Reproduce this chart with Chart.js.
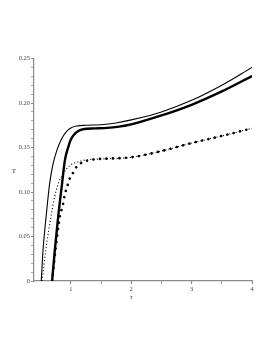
<!DOCTYPE html>
<html>
<head>
<meta charset="utf-8">
<script src="https://cdn.jsdelivr.net/npm/chart.js@4.4.1/dist/chart.umd.min.js"></script>
<style>
  html, body { margin: 0; padding: 0; background: #ffffff; }
  #wrap { width: 273px; height: 353px; position: relative; }
</style>
</head>
<body>
<div id="wrap"><canvas id="c" width="273" height="353"></canvas></div>
<script>
// ---- data ----
const tauThin  = [0.51, 0.54, 0.59, 0.65, 0.70, 0.77, 0.85, 0.93, 1.0, 1.1, 1.25, 1.5, 1.75, 2.0, 2.5, 3.0, 3.5, 4.0];
const TThin    = [0, 0.035, 0.072, 0.11, 0.13, 0.147, 0.160, 0.168, 0.172, 0.1742, 0.175, 0.1755, 0.1775, 0.181, 0.190, 0.203, 0.220, 0.240];

const tauThick = [0.69, 0.735, 0.79, 0.856, 0.90, 0.955, 1.0, 1.08, 1.2, 1.4, 1.6, 1.8, 2.0, 2.5, 3.0, 3.5, 4.0];
const TThick   = [0, 0.035, 0.072, 0.11, 0.135, 0.150, 0.159, 0.1665, 0.1705, 0.1715, 0.172, 0.1735, 0.176, 0.186, 0.198, 0.213, 0.2303];

const tauDot   = [0.525, 0.586, 0.67, 0.73, 0.79, 0.86, 0.93, 1.0, 1.1, 1.25, 1.45, 1.7, 2.0, 2.5, 3.0, 3.5, 4.0];
const TDot     = [0, 0.035, 0.072, 0.094, 0.109, 0.119, 0.126, 0.1305, 0.1335, 0.136, 0.137, 0.1375, 0.139, 0.146, 0.155, 0.163, 0.1716];

const tauBig   = [0.69, 0.746, 0.818, 0.87, 0.90, 0.94, 0.98, 1.04, 1.09, 1.18, 1.29, 1.45, 1.7, 2.0, 2.5, 3.0, 3.5, 4.0];
const TBig     = [0, 0.035, 0.072, 0.086, 0.097, 0.106, 0.115, 0.122, 0.128, 0.133, 0.1355, 0.137, 0.1378, 0.139, 0.146, 0.155, 0.163, 0.1716];

const xTickLabels = ['1', '2', '3', '4'];
const yTickLabels = ['0', '0.05', '0.10', '0.15', '0.20', '0.25'];
const xTitle = 'τ';
const yTitle = 'T';

function pts(xs, ys) { return xs.map((x, i) => ({ x: x, y: ys[i] })); }

const axisColor = '#8a8a8a';
const labelFont = { family: '"Liberation Serif", "DejaVu Serif", serif', size: 6.5 };

const titlePlugin = {
  id: 'axisTitles',
  afterDraw(chart) {
    const ctx = chart.ctx;
    const xs = chart.scales.x, ys = chart.scales.y;
    ctx.save();
    ctx.fillStyle = '#333';
    ctx.font = 'italic 7px "Liberation Serif", serif';
    ctx.textAlign = 'center';
    ctx.textBaseline = 'middle';
    ctx.fillText(xTitle, xs.getPixelForValue(2), 297);
    ctx.font = '7px "Liberation Serif", serif';
    ctx.fillText(yTitle, 14, (ys.top + ys.bottom) / 2 + 1);
    ctx.restore();
  }
};

new Chart(document.getElementById('c'), {
  type: 'line',
  data: {
    datasets: [
      { data: pts(tauThin, TThin), borderColor: '#000', borderWidth: 1.1, pointRadius: 0, cubicInterpolationMode: 'monotone', fill: false },
      { data: pts(tauThick, TThick), borderColor: '#000', borderWidth: 2.4, pointRadius: 0, cubicInterpolationMode: 'monotone', fill: false },
      { data: pts(tauDot, TDot), borderColor: '#111', borderWidth: 1.1, borderDash: [1.1, 2.2], pointRadius: 0, cubicInterpolationMode: 'monotone', fill: false },
      { data: pts(tauBig, TBig), borderColor: '#000', borderWidth: 2.6, borderDash: [0.01, 6.5], borderCapStyle: 'round', pointRadius: 0, cubicInterpolationMode: 'monotone', fill: false }
    ]
  },
  options: {
    responsive: false,
    animation: false,
    devicePixelRatio: 1,
    layout: { padding: { left: 0, right: 21, top: 58.5, bottom: 47 } },
    plugins: { legend: { display: false }, tooltip: { enabled: false } },
    scales: {
      x: {
        type: 'linear',
        min: 0.39, max: 4,
        afterBuildTicks(scale) {
          const t = [];
          for (let v = 1; v <= 4.0001; v += 0.5) t.push({ value: v });
          scale.ticks = t;
        },
        afterFit(scale) { scale.height = 25; },
        border: { display: true, color: axisColor, width: 1.2 },
        grid: { drawOnChartArea: false, drawTicks: true, tickLength: 3, tickColor: axisColor,
                tickWidth: (c) => (c.tick && Math.abs(c.tick.value - Math.round(c.tick.value)) < 1e-6) ? 1.2 : 0.8 },
        ticks: {
          color: '#444', font: labelFont, padding: 1, maxRotation: 0, autoSkip: false,
          callback: (v) => {
            const i = xTickLabels.indexOf(String(Math.round(v)));
            return Math.abs(v - Math.round(v)) < 1e-6 && i >= 0 ? xTickLabels[i] : '';
          }
        }
      },
      y: {
        type: 'linear',
        min: 0, max: 0.25,
        afterBuildTicks(scale) {
          const t = [];
          for (let k = 0; k <= 25; k++) t.push({ value: k / 100 });
          scale.ticks = t;
        },
        afterFit(scale) { scale.width = 34; },
        border: { display: true, color: axisColor, width: 1.2 },
        grid: { drawOnChartArea: false, drawTicks: true, tickLength: 3, tickColor: axisColor,
                tickWidth: (c) => (c.tick && Math.round(c.tick.value * 100) % 5 === 0) ? 1.2 : 0.8 },
        ticks: {
          color: '#444', font: labelFont, padding: 1, autoSkip: false,
          callback: (v) => {
            const k = Math.round(v * 100);
            return k % 5 === 0 ? yTickLabels[k / 5] : '';
          }
        }
      }
    }
  },
  plugins: [titlePlugin]
});
</script>
</body>
</html>
